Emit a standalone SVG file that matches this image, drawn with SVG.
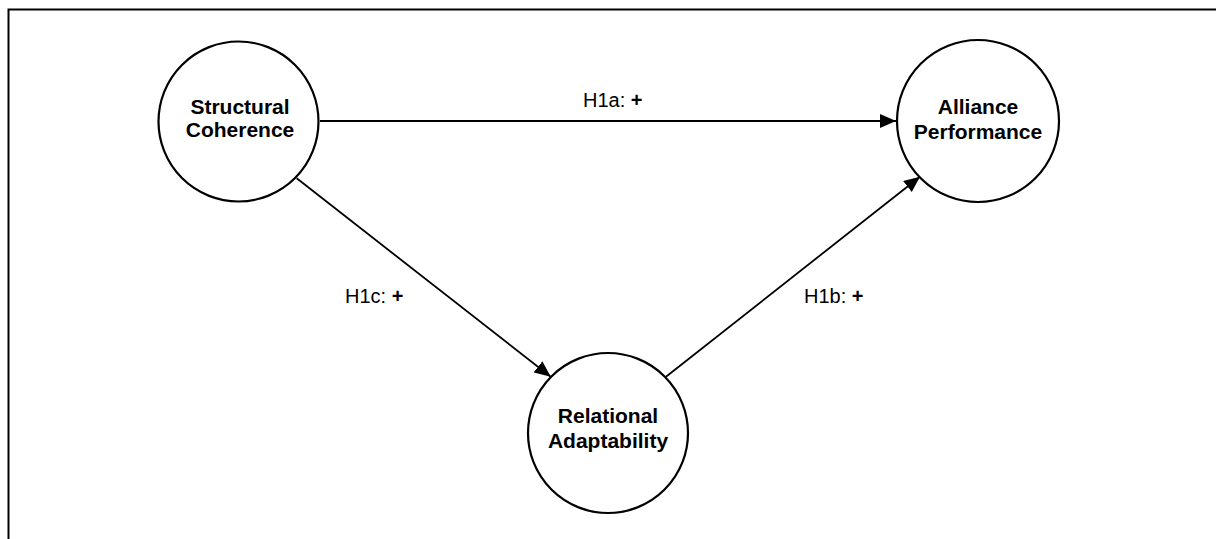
<svg xmlns="http://www.w3.org/2000/svg" width="1216" height="539" viewBox="0 0 1216 539">
  <style>
    .node circle { fill: #fff; stroke: #000; stroke-width: 2.2; }
    .node text { font-family: "Liberation Sans", Arial, sans-serif; font-size: 21px; font-weight: bold; text-anchor: middle; fill: #000; }
    .edge { stroke: #000; stroke-width: 1.8; fill: none; marker-end: url(#arrow); }
    .label { font-family: "Liberation Sans", Arial, sans-serif; font-size: 20px; fill: #000; }
    .label .sign { font-weight: bold; }
  </style>
  <defs>
    <marker id="arrow" markerUnits="userSpaceOnUse" markerWidth="17" markerHeight="15" refX="16" refY="7" orient="auto">
      <path d="M0,0 L16,7 L0,14 z" fill="#000"/>
    </marker>
  </defs>

  <rect x="0" y="0" width="1216" height="539" fill="#fff"/>
  <!-- frame, open at the right and bottom -->
  <rect x="8.5" y="9.5" width="1300" height="700" fill="none" stroke="#000" stroke-width="2"/>

  <g id="connectors">
    <line class="edge" x1="320" y1="121" x2="896" y2="121"/>
    <line class="edge" x1="296.7" y1="178.3" x2="550.7" y2="376.7"/>
    <line class="edge" x1="666" y1="376.7" x2="920" y2="176.7"/>
    <text class="label" x="583" y="107">H1a: <tspan class="sign">+</tspan></text>
    <text class="label" x="345" y="302.7">H1c: <tspan class="sign">+</tspan></text>
    <text class="label" x="804" y="302.7">H1b: <tspan class="sign">+</tspan></text>
  </g>

  <g id="structural-coherence" class="node">
    <circle cx="238.5" cy="121.5" r="80"/>
    <text x="240" y="113.5">Structural</text>
    <text x="240" y="137">Coherence</text>
  </g>

  <g id="alliance-performance" class="node">
    <circle cx="978" cy="121" r="81"/>
    <text x="978" y="114">Alliance</text>
    <text x="978" y="138.5">Performance</text>
  </g>

  <g id="relational-adaptability" class="node">
    <circle cx="608" cy="433" r="80"/>
    <text x="608" y="423.3">Relational</text>
    <text x="608" y="448.3">Adaptability</text>
  </g>
</svg>
